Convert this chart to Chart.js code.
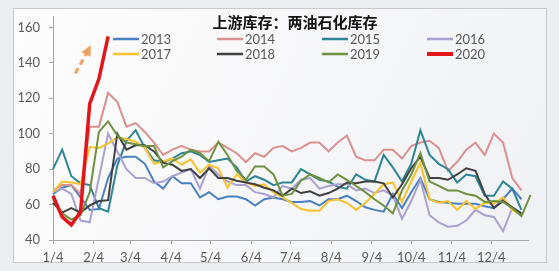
<!DOCTYPE html>
<html>
<head>
<meta charset="utf-8">
<script src="https://cdn.jsdelivr.net/npm/chart.js@4.4.1/dist/chart.umd.min.js"></script>
<style>
  html, body { margin: 0; padding: 0; background: #eceef1; }
  #wrap { position: relative; width: 559px; height: 271px; }
</style>
</head>
<body>
<div id="wrap"><canvas id="stockChart" width="559" height="271"></canvas></div>
<script>
// Upstream inventory: weekly values, one array per year
const chartTitle = '上游库存：两油石化库存';
const years = ['2013', '2014', '2015', '2016', '2017', '2018', '2019', '2020'];
const monthLabels = ['1/4', '2/4', '3/4', '4/4', '5/4', '6/4', '7/4', '8/4', '9/4', '10/4', '11/4', '12/4'];
const monthDays = [0, 31, 59, 90, 120, 151, 181, 212, 243, 273, 304, 334];
const yTicks = [40, 60, 80, 100, 120, 140, 160];

const inv2013 = [66, 69.5, 71, 64, 57, 57.5, 75, 86, 87, 87, 83, 73, 69, 76, 72, 72, 64, 67, 63, 64.5, 64.5, 63, 59.5, 63, 64, 63, 61.5, 61.5, 62, 59.5, 63, 63, 65, 62, 58.5, 57, 56, 66, 58, 67, 75, 63, 61.5, 61, 60.5, 60.5, 60.5, 59, 58, 63, 69, 63];
const inv2014 = [68, 71, 71, 66, 104, 104, 123, 118, 104, 106, 101, 95, 88, 91, 93, 91, 90, 90, 95, 92, 89, 84, 89, 87, 92, 93, 90, 92, 95, 95, 90, 95, 99, 87, 85, 85, 91, 91, 86, 93, 95, 96, 92, 79, 84, 91, 95, 88, 100, 95, 75, 68];
const inv2015 = [80, 91, 76, 72, 71, 58, 56, 82, 96, 102, 92, 85, 84, 86, 89, 90, 88, 84, 85, 86, 81, 73, 76, 74, 71, 72.5, 72.5, 80, 77, 74, 73, 70, 69, 77, 74, 73, 88, 81, 73, 83, 102, 88, 83, 80, 72.5, 77, 76, 65, 65, 73, 69, 57];
const inv2016 = [67, 69, 66, 51, 50, 75, 100, 90, 80, 75, 75, 72, 73, 76, 78, 80, 69, 82, 77, 73, 71, 71, 67, 66, 64, 70.5, 69, 74, 75, 69, 70.5, 71.5, 71.5, 68, 69, 66.5, 68, 65, 52, 62, 74, 54, 50, 47.5, 48, 51, 57, 54, 53, 45, 58];
const inv2017 = [67, 73, 72.5, 71.5, 92.5, 92, 94.5, 98, 97, 95.5, 92, 83, 84.5, 86, 82.5, 85.5, 78, 82.5, 80.5, 69.5, 77, 72.5, 70.5, 71.5, 67, 64, 61, 57.5, 56.5, 56.5, 62, 63, 61, 57, 61, 66, 71.5, 72.5, 61.5, 73, 83.5, 63, 61, 62, 57, 62, 57.5, 61, 60.5, 64, 57, 54];
const inv2018 = [61, 55.5, 58, 55.5, 59.5, 62, 62.5, 100, 91, 93.5, 93.5, 90, 83.5, 82.5, 79, 80, 75, 80.5, 75, 75, 73.5, 72.5, 71.5, 69.5, 68, 65, 69, 66.5, 67.5, 65, 66.5, 69, 72.5, 72, 73, 73, 72, 64, 71.5, 80.5, 87, 75, 75, 74, 77, 80.5, 79, 66, 58, 62, 58.5, 55];
const inv2019 = [63, 55, 51.5, 54, 67, 101, 107, 99, 95, 94, 93, 93, 81, 84.5, 87, 91, 89, 84.5, 95.5, 88, 79, 74, 81.5, 81.5, 77, 65, 66, 73.5, 77, 75, 72.5, 77, 74, 70.5, 67, 63, 59.5, 55, 68, 77, 89, 73, 70.5, 68, 68, 66, 65, 61.5, 62, 61.5, 58, 53.5, 65.5];
const inv2020 = [65, 53, 48.5, 56, 117, 131, 155];

const seriesValues = [inv2013, inv2014, inv2015, inv2016, inv2017, inv2018, inv2019, inv2020];
const seriesColors = ['#4a7fc1', '#d9908e', '#2e8594', '#aaa0d2', '#f7c22b', '#404040', '#6e9140', '#e3151a'];

// dashed arrow next to the 2020 spike, in data units
const arrowFrom = { x: 17, y: 134 };
const arrowTo = { x: 29, y: 150 };

const backgroundPlugin = {
  id: 'pageBackground',
  beforeDraw(chart) {
    const ctx = chart.ctx;
    ctx.save();
    ctx.fillStyle = '#eceef1';
    ctx.fillRect(0, 0, chart.width, chart.height);
    const g = ctx.createLinearGradient(13, 8, 546, 263);
    g.addColorStop(0, '#fdfdfd');
    g.addColorStop(1, '#f0f1f4');
    ctx.fillStyle = g;
    ctx.fillRect(13.5, 8.5, 533, 254);
    ctx.strokeStyle = '#c8c8c8';
    ctx.lineWidth = 1;
    ctx.strokeRect(13.5, 8.5, 533, 254);
    ctx.restore();
  }
};

const overlayPlugin = {
  id: 'overlay',
  afterDatasetsDraw(chart) {
    const ctx = chart.ctx;
    const xs = chart.scales.x, ys = chart.scales.y;
    ctx.save();

    // title
    ctx.fillStyle = '#111111';
    ctx.font = 'bold 15px "Noto Sans CJK SC"';
    ctx.textAlign = 'center';
    ctx.textBaseline = 'middle';
    ctx.fillText(chartTitle, 295, 22);

    // legend, 4 columns x 2 rows
    const colX = [113, 217, 322, 427];
    const rowY = [39, 54];
    ctx.font = '13px Lato';
    ctx.textAlign = 'left';
    chart.data.datasets.forEach(function (ds, i) {
      const x = colX[i % 4], y = rowY[Math.floor(i / 4)];
      ctx.strokeStyle = ds.borderColor;
      ctx.lineWidth = ds.borderWidth > 3 ? 4 : 2.5;
      ctx.beginPath();
      ctx.moveTo(x, y);
      ctx.lineTo(x + 26, y);
      ctx.stroke();
      ctx.fillStyle = '#595959';
      ctx.fillText(ds.label, x + 28, y + 0.5);
    });

    // dashed arrow
    const x1 = xs.getPixelForValue(arrowFrom.x), y1 = ys.getPixelForValue(arrowFrom.y);
    const x2 = xs.getPixelForValue(arrowTo.x), y2 = ys.getPixelForValue(arrowTo.y);
    const ang = Math.atan2(y2 - y1, x2 - x1);
    const head = 9;
    ctx.strokeStyle = '#f0a060';
    ctx.fillStyle = '#f0a060';
    ctx.lineWidth = 3;
    ctx.setLineDash([6, 4]);
    ctx.beginPath();
    ctx.moveTo(x1, y1);
    ctx.lineTo(x2 - Math.cos(ang) * head, y2 - Math.sin(ang) * head);
    ctx.stroke();
    ctx.setLineDash([]);
    ctx.beginPath();
    ctx.moveTo(x2, y2);
    ctx.lineTo(x2 - Math.cos(ang - 0.45) * head * 1.3, y2 - Math.sin(ang - 0.45) * head * 1.3);
    ctx.lineTo(x2 - Math.cos(ang + 0.45) * head * 1.3, y2 - Math.sin(ang + 0.45) * head * 1.3);
    ctx.closePath();
    ctx.fill();

    ctx.restore();
  }
};

document.addEventListener('DOMContentLoaded', function () {
  Chart.defaults.font.family = 'Lato';
  Chart.defaults.color = '#595959';

  const datasets = years.map(function (yr, i) {
    return {
      label: yr,
      data: seriesValues[i].map(function (v, w) { return { x: w * 7, y: v }; }),
      borderColor: seriesColors[i],
      backgroundColor: seriesColors[i],
      borderWidth: yr === '2020' ? 3.5 : 2,
      pointRadius: 0,
      tension: 0,
      fill: false,
      clip: false,
      order: years.length - i
    };
  });

  new Chart(document.getElementById('stockChart'), {
    type: 'line',
    data: { datasets: datasets },
    options: {
      responsive: false,
      animation: false,
      layout: { padding: { left: 13, right: 31, top: 13, bottom: 8 } },
      plugins: {
        legend: { display: false },
        title: { display: false },
        tooltip: { enabled: false }
      },
      scales: {
        x: {
          type: 'linear',
          min: 0,
          max: 362,
          afterBuildTicks: function (scale) {
            scale.ticks = monthDays.map(function (d) { return { value: d }; });
          },
          afterFit: function (scale) { scale.height = 23; },
          grid: { drawOnChartArea: false, drawTicks: true, tickLength: 4, color: '#a6a6a6' },
          border: { display: true, color: '#a6a6a6' },
          ticks: {
            autoSkip: false,
            maxRotation: 0,
            padding: 6,
            font: { size: 13 },
            callback: function (value, index) { return monthLabels[index]; }
          }
        },
        y: {
          type: 'linear',
          min: 40,
          max: 166,
          afterBuildTicks: function (scale) {
            scale.ticks = yTicks.map(function (v) { return { value: v }; });
          },
          afterFit: function (scale) { scale.width = 40; },
          grid: { drawOnChartArea: false, drawTicks: true, tickLength: 4, color: '#a6a6a6' },
          border: { display: true, color: '#a6a6a6' },
          ticks: { padding: 9, font: { size: 13 } }
        }
      }
    },
    plugins: [backgroundPlugin, overlayPlugin]
  });
});
</script>
</body>
</html>
